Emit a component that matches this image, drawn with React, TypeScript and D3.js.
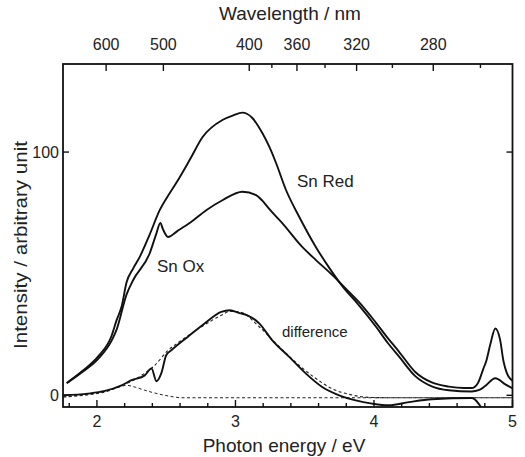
import * as d3 from 'd3';

const width = 525;
const height = 457;
const plotLeft = 63;
const plotRight = 512.5;
const plotTop = 64;
const plotBottom = 407;

// Sn Red spectrum (photon energy eV, intensity)
const redE = [1.782, 1.89, 2.009, 2.106, 2.142, 2.178, 2.214, 2.26, 2.309, 2.38, 2.453, 2.525, 2.58, 2.669, 2.763, 2.906, 2.98, 3.05, 3.122, 3.194, 3.245, 3.293, 3.365, 3.46, 3.58, 3.676, 3.77, 3.892, 4.012, 4.1, 4.18, 4.3, 4.417, 4.54, 4.705, 4.76, 4.8, 4.876, 4.948, 5.0];
const redV = [5.1, 9.8, 16.0, 24.5, 30.9, 36.5, 46.5, 52.0, 56.9, 66.0, 76.1, 83.1, 88.0, 96.7, 106.2, 113.2, 115.0, 116.2, 114.0, 107.8, 102.1, 95.5, 84.4, 73.4, 61.0, 52.5, 45.0, 37.0, 28.4, 21.5, 16.0, 7.8, 3.7, 2.1, 1.6, 2.2, 3.7, 7.0, 4.5, 2.9];

// Sn Ox spectrum
const oxE = [1.782, 1.89, 2.009, 2.106, 2.142, 2.214, 2.261, 2.381, 2.429, 2.458, 2.475, 2.513, 2.58, 2.669, 2.789, 2.906, 3.05, 3.149, 3.194, 3.245, 3.338, 3.482, 3.581, 3.698, 3.82, 3.892, 4.012, 4.1, 4.18, 4.3, 4.417, 4.54, 4.65, 4.705, 4.75, 4.79, 4.81, 4.84, 4.876, 4.91, 4.935, 4.96, 5.0];
const oxV = [5.0, 9.4, 15.0, 22.5, 27.0, 41.5, 47.3, 58.4, 66.5, 70.9, 68.5, 65.1, 67.5, 70.8, 76.1, 80.2, 83.7, 82.3, 80.0, 76.5, 70.8, 61.0, 55.6, 49.5, 42.5, 38.3, 30.0, 23.5, 18.0, 9.5, 5.3, 3.6, 3.0, 3.0, 5.0, 11.0, 14.0, 21.0, 27.5, 23.0, 14.0, 9.0, 6.0];

// difference spectrum
const diffE = [1.757, 1.935, 2.058, 2.178, 2.25, 2.345, 2.394, 2.43, 2.465, 2.5, 2.537, 2.655, 2.777, 2.897, 2.96, 3.029, 3.086, 3.173, 3.266, 3.388, 3.509, 3.626, 3.748, 3.868, 3.986, 4.108, 4.252, 4.417, 4.705, 4.755, 4.8, 4.876, 4.95, 5.0];
const diffV = [0, 0.7, 1.8, 4.1, 6.2, 8.2, 11.0, 5.8, 9.1, 16.5, 18.5, 24.0, 29.5, 34.3, 35.0, 33.8, 32.9, 29.5, 22.6, 15.8, 8.9, 3.4, 0, -2.1, -3.4, -4.1, -2.8, -1.6, -1.1, -3.4, -8, -20, -12, -6];

// fitted total (dotted)
const fitE = [1.757, 1.9, 2.058, 2.178, 2.25, 2.33, 2.417, 2.513, 2.61, 2.753, 2.897, 2.96, 3.029, 3.173, 3.317, 3.46, 3.581, 3.698, 3.82, 3.986, 4.2, 5.0];
const fitV = [-0.7, 0, 1.4, 4.0, 5.8, 8.5, 12.3, 18.5, 22.6, 28.1, 32.9, 34.5, 34.3, 28.1, 19.9, 12.3, 6.9, 2.7, 0.4, -0.9, -1.0, -1.0];

// low energy component (dotted)
const compE = [1.757, 1.9, 2.058, 2.15, 2.214, 2.28, 2.345, 2.42, 2.49, 2.55, 2.61, 3.0, 4.0, 5.0];
const compV = [-0.7, 0.3, 1.6, 3.2, 4.1, 3.3, 2.1, 0.9, 0, -0.6, -1.0, -1.0, -1.0, -1.0];

const energyMajor = [2, 3, 4, 5];
const energyMinor = [1.8, 2.2, 2.4, 2.6, 2.8, 3.2, 3.4, 3.6, 3.8, 4.2, 4.4, 4.6, 4.8];
const waveMajor = [600, 500, 400, 360, 320, 280];
const waveMinor = [380, 340, 300, 260];
const yTicks = [0, 100];

const font = 'Liberation Sans, Arial, Helvetica, sans-serif';

const x = d3.scaleLinear().domain([1.755, 5]).range([plotLeft, plotRight]);
const y = d3.scaleLinear().domain([-4.8, 136.2]).range([plotBottom, plotTop]);
const eOfNm = (nm: number) => 1239.84 / nm;

const makePath = (es: number[], vs: number[]) =>
  d3.line<number>()
    .x((d, i) => x(es[i]))
    .y((d) => y(d))
    .curve(d3.curveMonotoneX)(vs) as string;

const App = () => {
  return (
    <svg width={width} height={height} style={{ position: 'absolute', left: 0, top: 0, background: '#fff' }}>
      <defs>
        <clipPath id="plotArea">
          <rect x={plotLeft} y={plotTop} width={plotRight - plotLeft} height={plotBottom - plotTop} />
        </clipPath>
      </defs>
      <g clipPath="url(#plotArea)" fill="none">
        <path d={makePath(compE, compV)} stroke="#222" strokeWidth={1} strokeDasharray="3,2.5" />
        <path d={makePath(fitE, fitV)} stroke="#222" strokeWidth={1.1} strokeDasharray="3,2.5" />
        <path d={makePath(diffE, diffV)} stroke="#111" strokeWidth={1.9} />
        <path d={makePath(oxE, oxV)} stroke="#111" strokeWidth={1.9} />
        <path d={makePath(redE, redV)} stroke="#111" strokeWidth={1.9} />
      </g>

      {/* frame */}
      <rect x={plotLeft} y={plotTop} width={plotRight - plotLeft} height={plotBottom - plotTop}
        fill="none" stroke="#111" strokeWidth={1.8} />

      {/* ticks, all pointing inward */}
      <g stroke="#111" strokeWidth={1.4}>
        {energyMajor.map(e => (
          <line key={'em' + e} x1={x(e)} x2={x(e)} y1={plotBottom} y2={plotBottom - 7} />
        ))}
        {energyMinor.map(e => (
          <line key={'en' + e} x1={x(e)} x2={x(e)} y1={plotBottom} y2={plotBottom - 4} />
        ))}
        {waveMajor.map(w => (
          <line key={'wm' + w} x1={x(eOfNm(w))} x2={x(eOfNm(w))} y1={plotTop} y2={plotTop + 7} />
        ))}
        {waveMinor.map(w => (
          <line key={'wn' + w} x1={x(eOfNm(w))} x2={x(eOfNm(w))} y1={plotTop} y2={plotTop + 4} />
        ))}
        {yTicks.map(v => (
          <g key={'y' + v}>
            <line x1={plotLeft} x2={plotLeft + 6} y1={y(v)} y2={y(v)} />
            <line x1={plotRight} x2={plotRight - 6} y1={y(v)} y2={y(v)} />
          </g>
        ))}
      </g>

      <g fontFamily={font} fontSize={16} fill="#222">
        {energyMajor.map(e => (
          <text key={'el' + e} x={x(e)} y={427} textAnchor="middle">{e}</text>
        ))}
        {waveMajor.map(w => (
          <text key={'wl' + w} x={x(eOfNm(w))} y={50} textAnchor="middle">{w}</text>
        ))}
        {yTicks.map(v => (
          <text key={'yl' + v} x={59} y={y(v) + 6} textAnchor="end">{v}</text>
        ))}
      </g>

      <g fontFamily={font} fill="#222">
        <text x={290} y={20} fontSize={19} textAnchor="middle">Wavelength / nm</text>
        <text x={284} y={452} fontSize={19} textAnchor="middle">Photon energy / eV</text>
        <text transform="translate(27,245) rotate(-90)" fontSize={19} textAnchor="middle"
          textLength={208} lengthAdjust="spacingAndGlyphs">Intensity / arbitrary unit</text>
        <text x={297} y={187} fontSize={17}>Sn Red</text>
        <text x={157} y={272} fontSize={17}>Sn Ox</text>
        <text x={282} y={337} fontSize={15}>difference</text>
      </g>
    </svg>
  );
};

export default App;
